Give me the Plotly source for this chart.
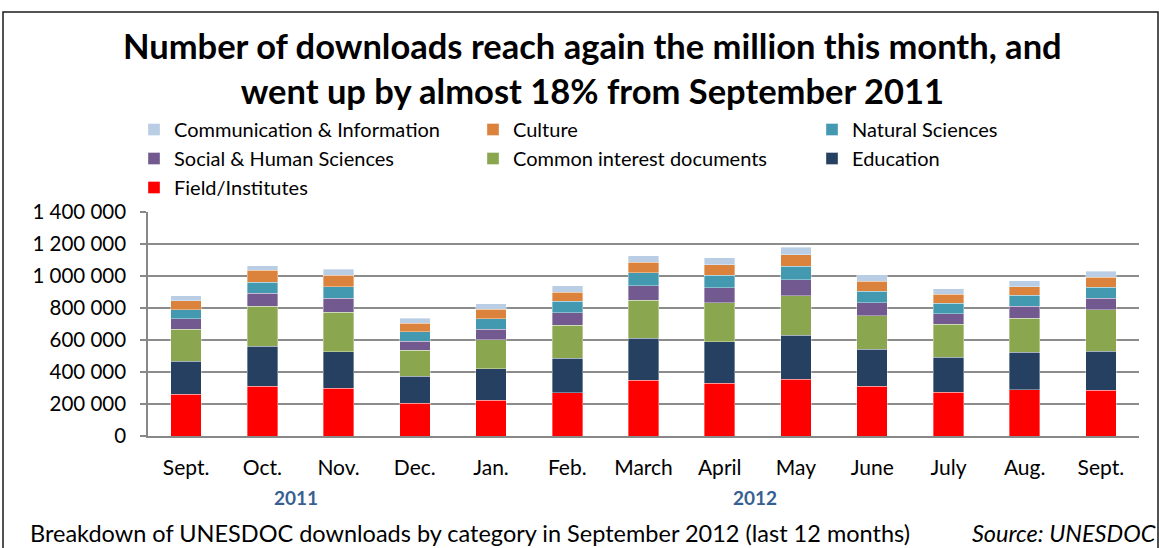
import plotly.graph_objects as go

months = ["Sept.", "Oct.", "Nov.", "Dec.", "Jan.", "Feb.", "March", "April", "May", "June", "July", "Aug.", "Sept."]
field_institutes = [260000, 312000, 300000, 206000, 225000, 270000, 347000, 331000, 356000, 310000, 272000, 289000, 287000]
education = [208000, 250000, 226000, 168000, 195000, 217000, 265000, 258000, 274000, 233000, 221000, 235000, 243000]
common_interest = [200000, 249000, 246000, 161000, 181000, 206000, 235000, 243000, 248000, 210000, 204000, 212000, 258000]
social_human = [64000, 81000, 89000, 58000, 67000, 77000, 91000, 94000, 98000, 81000, 66000, 75000, 73000]
natural_sciences = [56000, 69000, 71000, 60000, 66000, 72000, 81000, 79000, 85000, 71000, 67000, 69000, 69000]
culture = [56000, 75000, 73000, 52000, 58000, 57000, 67000, 66000, 73000, 62000, 56000, 52000, 62000]
communication = [32000, 29000, 37000, 31000, 34000, 41000, 41000, 44000, 45000, 40000, 33000, 37000, 38000]

y_ticks = [0, 200000, 400000, 600000, 800000, 1000000, 1200000, 1400000]
y_tick_labels = ["0", "200 000", "400 000", "600 000", "800 000", "1 000 000", "1 200 000", "1 400 000"]

series = [
    ("Field/Institutes", field_institutes, "#FF0000", 7),
    ("Education", education, "#254061", 6),
    ("Common interest documents", common_interest, "#8AA64E", 5),
    ("Social & Human Sciences", social_human, "#72598F", 4),
    ("Natural Sciences", natural_sciences, "#4299B0", 3),
    ("Culture", culture, "#DB833C", 2),
    ("Communication & Information", communication, "#B9CDE5", 1),
]

FONT = "Lato"
W, H = 1159, 548
L, R, T, B = 148, 20, 212, 112
pw, ph = W - L - R, H - T - B

def px_x(p):
    return (p - L) / pw

def px_y(p):
    return (H - B - p) / ph

x = list(range(len(months)))
fig = go.Figure()
for name, vals, color, rank in series:
    fig.add_trace(go.Bar(
        x=x, y=vals, name=name, legendrank=rank,
        marker=dict(color=color, line=dict(color="rgba(255,255,255,0.6)", width=0.6)),
    ))

fig.update_layout(
    width=W, height=H,
    margin=dict(l=L, r=R, t=T, b=B),
    barmode="stack", bargap=0.6,
    paper_bgcolor="white", plot_bgcolor="white",
    font=dict(family=FONT, color="black", size=21),
    showlegend=True,
    legend=dict(
        orientation="h", x=px_x(134), xanchor="left", y=px_y(110), yanchor="top",
        entrywidth=294, itemwidth=30, font=dict(size=20, family=FONT),
        bgcolor="rgba(0,0,0,0)", traceorder="normal",
    ),
    xaxis=dict(
        tickvals=x, ticktext=months, range=[-0.5, len(months) - 0.5],
        showline=True, linecolor="#888888", linewidth=1.5, ticks="",
        showgrid=False, ticklabelstandoff=12, tickfont=dict(size=21),
        fixedrange=True,
    ),
    yaxis=dict(
        range=[0, 1400000], tickvals=y_ticks, ticktext=y_tick_labels,
        showgrid=True, gridcolor="#8C8C8C", gridwidth=1.5,
        showline=True, linecolor="#888888", linewidth=1.5,
        ticks="outside", ticklen=6, tickcolor="#888888", tickwidth=1.5,
        ticklabelstandoff=10, tickfont=dict(size=20.5), zeroline=False,
        fixedrange=True,
    ),
)

annotations = [
    dict(text="<b>Number of downloads reach again the million this month, and<br>went up by almost 18% from September 2011</b>",
         x=px_x(592), y=px_y(68), xref="paper", yref="paper", xanchor="center", yanchor="middle",
         showarrow=False, font=dict(size=34.5, family=FONT, color="black"), align="center"),
    dict(text="<b>2011</b>", x=px_x(296), y=px_y(497), xref="paper", yref="paper",
         xanchor="center", yanchor="middle", showarrow=False,
         font=dict(size=19, family=FONT, color="#376092")),
    dict(text="<b>2012</b>", x=px_x(755), y=px_y(497), xref="paper", yref="paper",
         xanchor="center", yanchor="middle", showarrow=False,
         font=dict(size=19, family=FONT, color="#376092")),
    dict(text="Breakdown of UNESDOC downloads by category in September 2012 (last 12 months)",
         x=px_x(28), y=px_y(533), xref="paper", yref="paper",
         xanchor="left", yanchor="middle", showarrow=False,
         font=dict(size=23.5, family=FONT, color="black")),
    dict(text="<i>Source: UNESDOC</i>", x=px_x(1158), y=px_y(533), xref="paper", yref="paper",
         xanchor="right", yanchor="middle", showarrow=False,
         font=dict(size=23.5, family=FONT, color="black")),
]
fig.update_layout(annotations=annotations)

fig.add_shape(type="rect", xref="paper", yref="paper",
              x0=px_x(3), x1=px_x(1158), y0=px_y(560), y1=px_y(12),
              line=dict(color="#1A1A1A", width=1.5), fillcolor="rgba(0,0,0,0)", layer="above")

fig.write_html("out.html", config={"displayModeBar": False},
               post_script="document.body.style.margin='0';document.body.style.overflow='hidden';")
